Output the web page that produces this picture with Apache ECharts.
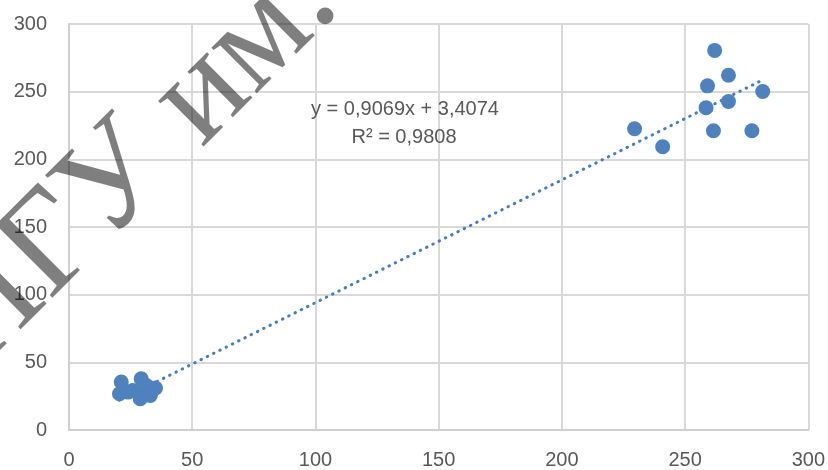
<!DOCTYPE html>
<html>
<head>
<meta charset="utf-8">
<script src="https://cdn.jsdelivr.net/npm/echarts@6/dist/echarts.min.js"></script>
<style>
  html, body { margin: 0; padding: 0; background: #ffffff; }
  #chart { width: 828px; height: 470px; }
</style>
</head>
<body>
<div id="chart"></div>
<script>
// ---- Data ----
const pointsX = [21.2, 20.5, 29.3, 25.9, 28.9, 33.0, 35.1, 31.4, 31.0, 24.0,
                 262.0, 267.6, 259.1, 281.5, 267.6, 258.5, 261.5, 277.1, 229.5, 240.9];
const pointsY = [35.4, 26.8, 37.8, 29.2, 23.1, 25.5, 31.0, 32.9, 29.0, 28.0,
                 280.5, 262.1, 254.3, 250.1, 242.7, 238.1, 221.1, 221.1, 222.6, 209.3];
// Linear trend line end points (as drawn in the reference)
const trendX = [20.5, 281.5];
const trendY = [22.0, 258.7];
const axisTicks = [0, 50, 100, 150, 200, 250, 300];
const equationText = 'y = 0,9069x + 3,4074';
const r2Text = 'R² = 0,9808';
const watermarkText = 'НГУ им.';

const scatterData = pointsX.map((x, i) => [x, pointsY[i]]);
const trendData = trendX.map((x, i) => [x, trendY[i]]);

const chart = echarts.init(document.getElementById('chart'), null, { renderer: 'canvas' });

const labelStyle = { color: '#595959', fontSize: 20, fontFamily: '"Liberation Sans", Arial, sans-serif' };
const gridLine = { show: true, lineStyle: { color: '#d9d9d9', width: 2 } };

chart.setOption({
  animation: false,
  backgroundColor: '#ffffff',
  grid: { left: 69, right: 18, top: 24, bottom: 39, containLabel: false },
  xAxis: {
    type: 'value',
    min: axisTicks[0], max: axisTicks[axisTicks.length - 1], interval: axisTicks[1] - axisTicks[0],
    axisLine: { show: true, lineStyle: { color: '#d0d0d0', width: 2 } },
    axisTick: { show: false },
    splitLine: gridLine,
    axisLabel: Object.assign({ margin: 20 }, labelStyle)
  },
  yAxis: {
    type: 'value',
    min: axisTicks[0], max: axisTicks[axisTicks.length - 1], interval: axisTicks[1] - axisTicks[0],
    axisLine: { show: true, lineStyle: { color: '#d0d0d0', width: 2 } },
    axisTick: { show: false },
    splitLine: gridLine,
    axisLabel: Object.assign({ margin: 22 }, labelStyle)
  },
  series: [
    {
      type: 'line',
      data: trendData,
      symbol: 'none',
      z: 2,
      lineStyle: { color: '#4a7bbf', width: 3, type: [0.5, 6.5], cap: 'round' }
    },
    {
      type: 'scatter',
      data: scatterData,
      symbol: 'circle',
      symbolSize: 15,
      z: 3,
      itemStyle: { color: '#4f81bd', opacity: 1 }
    }
  ],
  graphic: [
    {
      type: 'text', x: 405, y: 109, z: 50,
      style: { text: equationText, fill: '#595959', font: '20px "Liberation Sans", Arial, sans-serif',
               textAlign: 'center', textVerticalAlign: 'middle' }
    },
    {
      type: 'text', x: 404, y: 137, z: 50,
      style: { text: r2Text, fill: '#595959', font: '20px "Liberation Sans", Arial, sans-serif',
               textAlign: 'center', textVerticalAlign: 'middle' }
    },
    {
      type: 'text', x: 316, y: -18, rotation: Math.PI / 4, z: 100,
      style: { text: watermarkText, fill: 'rgba(0,0,0,0.5)', font: '140px "Liberation Serif", serif',
               textAlign: 'right', textVerticalAlign: 'middle' }
    }
  ]
});
</script>
</body>
</html>
